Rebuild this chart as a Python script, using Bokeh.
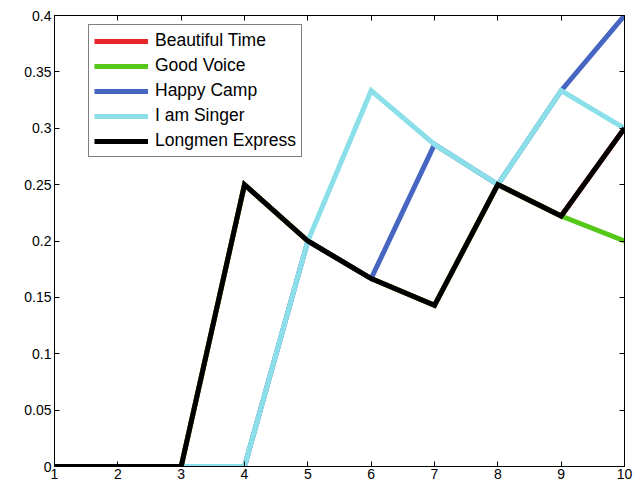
from bokeh.plotting import figure
from bokeh.models import LinearAxis, FixedTicker, Legend, LegendItem
from bokeh.embed import file_html
from bokeh.resources import INLINE

x = [1, 2, 3, 4, 5, 6, 7, 8, 9, 10]
beautiful_time = [0, 0, 0, 0.25, 0.2, 0.1667, 0.1429, 0.25, 0.2222, 0.3]
good_voice = [0, 0, 0, 0.25, 0.2, 0.1667, 0.1429, 0.25, 0.2222, 0.2]
happy_camp = [0, 0, 0, 0, 0.2, 0.1667, 0.2857, 0.25, 0.3333, 0.4]
i_am_singer = [0, 0, 0, 0, 0.2, 0.3333, 0.2857, 0.25, 0.3333, 0.3]
longmen_express = [0, 0, 0, 0.25, 0.2, 0.1667, 0.1429, 0.25, 0.2222, 0.3]

series_names = ["Beautiful Time", "Good Voice", "Happy Camp", "I am Singer", "Longmen Express"]
series_values = [beautiful_time, good_voice, happy_camp, i_am_singer, longmen_express]
colors = ["#e8262a", "#55c81a", "#4766c2", "#8adfe8", "#000000"]

x_ticks = [1, 2, 3, 4, 5, 6, 7, 8, 9, 10]
y_ticks = [0, 0.05, 0.1, 0.15, 0.2, 0.25, 0.3, 0.35, 0.4]
y_tick_labels = ["0", "0.05", "0.1", "0.15", "0.2", "0.25", "0.3", "0.35", "0.4"]

FONT = "Liberation Sans"

p = figure(width=636, height=484, x_range=(1, 10), y_range=(0, 0.4),
           output_backend="svg", toolbar_location=None,
           x_axis_location=None, y_axis_location=None,
           min_border_left=54, min_border_right=12, min_border_top=15, min_border_bottom=18)
p.xgrid.visible = False
p.ygrid.visible = False
p.outline_line_color = "black"
p.outline_line_width = 1
p.background_fill_color = "white"
p.border_fill_color = "white"

def style_axis(ax, show_labels):
    ax.axis_line_color = "black"
    ax.axis_line_width = 1
    ax.major_tick_in = 5
    ax.major_tick_out = 0
    ax.minor_tick_in = 0
    ax.minor_tick_out = 0
    ax.major_tick_line_color = "black"
    if show_labels:
        ax.major_label_text_font = FONT
        ax.major_label_text_font_size = "14px"
        ax.major_label_text_color = "black"
        ax.major_label_standoff = 3
    else:
        ax.major_label_text_font_size = "1px"
        ax.major_label_text_color = None
        ax.major_label_standoff = 0

xb = LinearAxis(ticker=FixedTicker(ticks=x_ticks))
style_axis(xb, True)
xb.major_label_standoff = 2
xb.major_label_overrides = {t: str(t) for t in x_ticks}
p.add_layout(xb, "below")

xt = LinearAxis(ticker=FixedTicker(ticks=x_ticks))
style_axis(xt, False)
p.add_layout(xt, "above")

yl = LinearAxis(ticker=FixedTicker(ticks=y_ticks))
style_axis(yl, True)
yl.major_label_overrides = {t: l for t, l in zip(y_ticks, y_tick_labels)}
p.add_layout(yl, "left")

yr = LinearAxis(ticker=FixedTicker(ticks=y_ticks))
style_axis(yr, False)
p.add_layout(yr, "right")

items = []
for name, vals, c in zip(series_names, series_values, colors):
    r = p.line(x, vals, line_color=c, line_width=5, line_join="miter")
    items.append(LegendItem(label=name, renderers=[r]))

legend = Legend(items=items, location=(34, 309))
legend.border_line_color = "black"
legend.border_line_width = 1
legend.background_fill_color = "white"
legend.background_fill_alpha = 1
legend.label_text_font = FONT
legend.label_text_font_size = "17.5px"
legend.label_text_color = "black"
legend.glyph_width = 54
legend.glyph_height = 20
legend.label_height = 20
legend.spacing = 4
legend.padding = 5
legend.label_standoff = 7
legend.margin = 0
p.add_layout(legend, "center")

open("out.html", "w").write(file_html(p, INLINE))
